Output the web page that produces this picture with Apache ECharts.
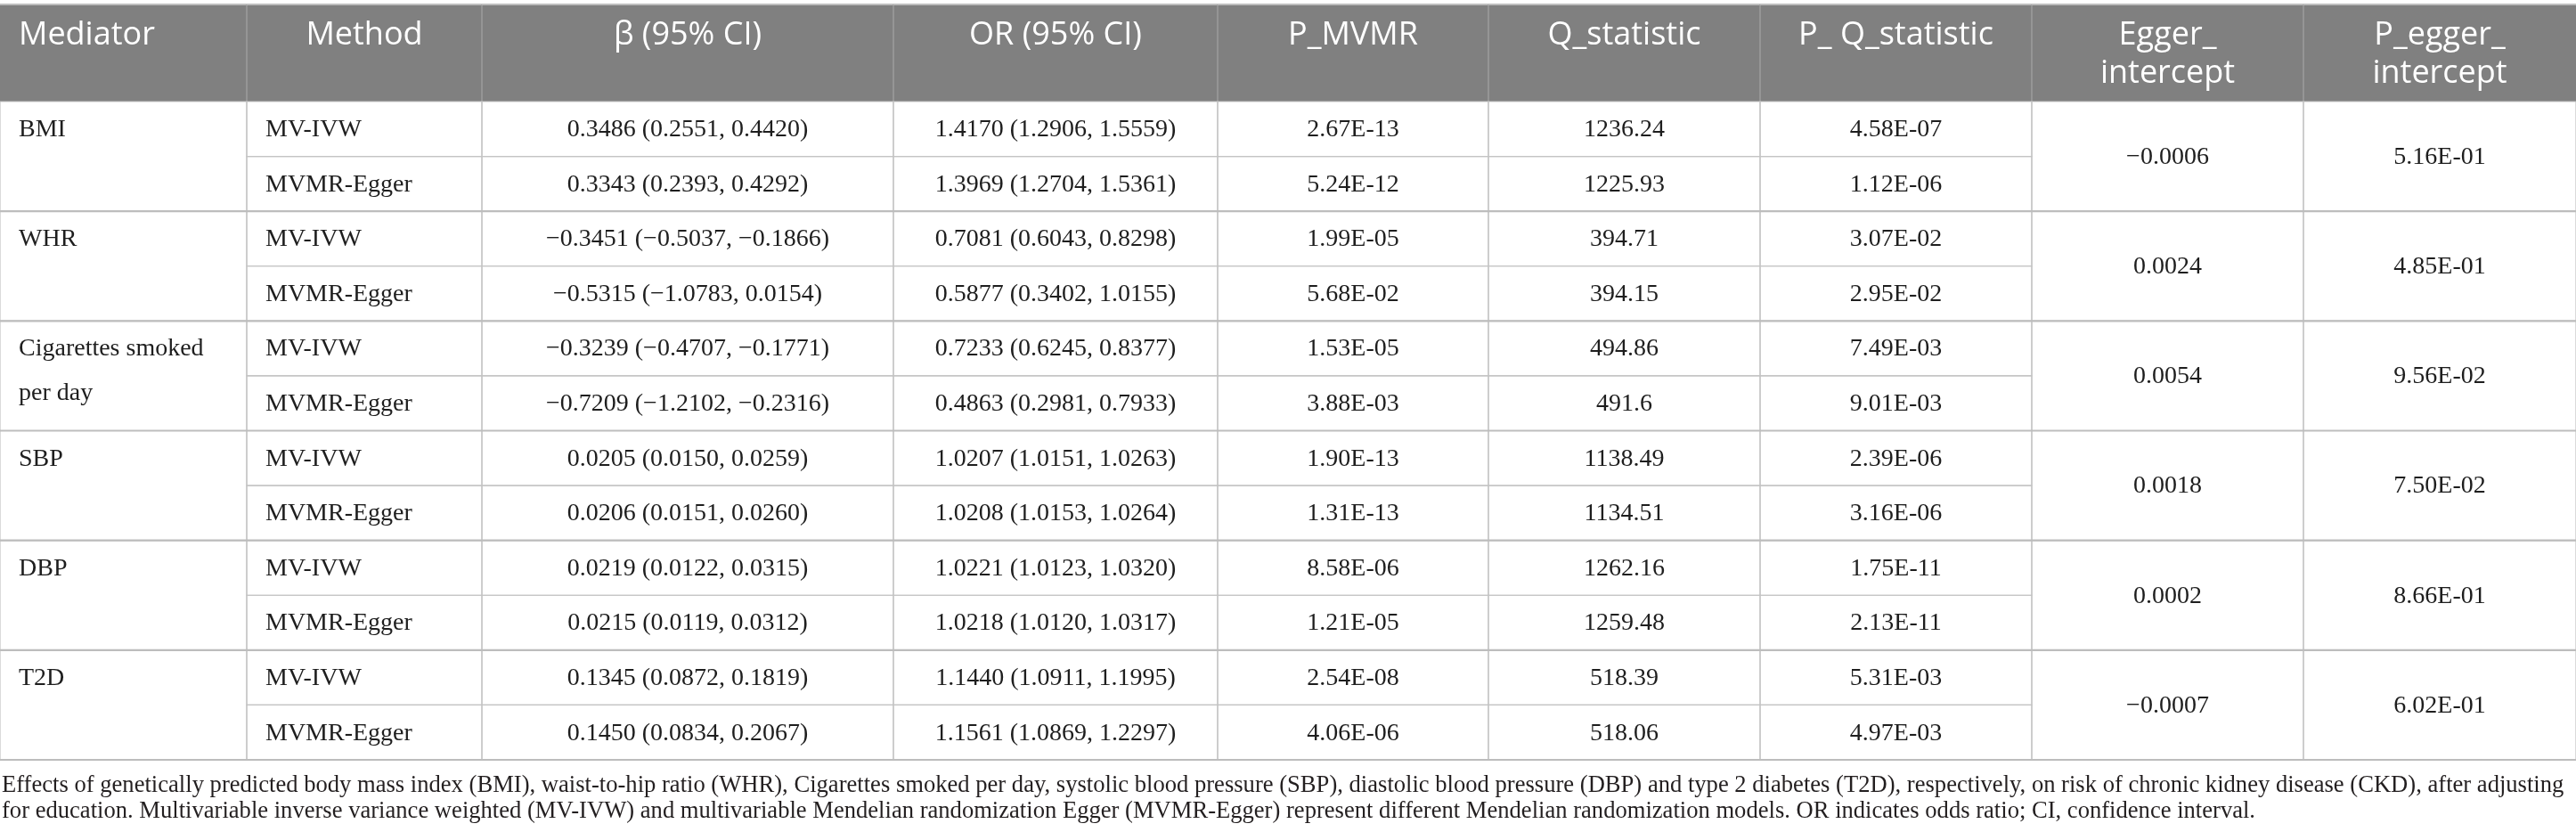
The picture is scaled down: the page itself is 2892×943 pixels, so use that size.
<!DOCTYPE html>
<html lang="en">
<head>
    <meta charset="UTF-8">
    <title>MVMR mediators</title>
    <style>
        html, body {margin: 0; padding: 0; background: #fff;}
    </style>
</head>
<body>
<div id="main" style="width: 2892px;height: 943px"></div>
</body>
<script src="https://cdn.jsdelivr.net/npm/echarts@6/dist/echarts.min.js"></script>
<script>
    // ---- table data ----
    const headers = ['Mediator', 'Method', 'β (95% CI)', 'OR (95% CI)', 'P_MVMR', 'Q_statistic',
        'P_ Q_statistic', 'Egger_\nintercept', 'P_egger_\nintercept']
    const mediators = ['BMI', 'WHR', 'Cigarettes smoked per day', 'SBP', 'DBP', 'T2D']
    const methods = ['MV-IVW', 'MVMR-Egger']
    const beta = [
        '0.3486 (0.2551, 0.4420)', '0.3343 (0.2393, 0.4292)',
        '−0.3451 (−0.5037, −0.1866)', '−0.5315 (−1.0783, 0.0154)',
        '−0.3239 (−0.4707, −0.1771)', '−0.7209 (−1.2102, −0.2316)',
        '0.0205 (0.0150, 0.0259)', '0.0206 (0.0151, 0.0260)',
        '0.0219 (0.0122, 0.0315)', '0.0215 (0.0119, 0.0312)',
        '0.1345 (0.0872, 0.1819)', '0.1450 (0.0834, 0.2067)'
    ]
    const orCI = [
        '1.4170 (1.2906, 1.5559)', '1.3969 (1.2704, 1.5361)',
        '0.7081 (0.6043, 0.8298)', '0.5877 (0.3402, 1.0155)',
        '0.7233 (0.6245, 0.8377)', '0.4863 (0.2981, 0.7933)',
        '1.0207 (1.0151, 1.0263)', '1.0208 (1.0153, 1.0264)',
        '1.0221 (1.0123, 1.0320)', '1.0218 (1.0120, 1.0317)',
        '1.1440 (1.0911, 1.1995)', '1.1561 (1.0869, 1.2297)'
    ]
    const pMVMR = ['2.67E-13', '5.24E-12', '1.99E-05', '5.68E-02', '1.53E-05', '3.88E-03',
        '1.90E-13', '1.31E-13', '8.58E-06', '1.21E-05', '2.54E-08', '4.06E-06']
    const qStat = ['1236.24', '1225.93', '394.71', '394.15', '494.86', '491.6',
        '1138.49', '1134.51', '1262.16', '1259.48', '518.39', '518.06']
    const pQ = ['4.58E-07', '1.12E-06', '3.07E-02', '2.95E-02', '7.49E-03', '9.01E-03',
        '2.39E-06', '3.16E-06', '1.75E-11', '2.13E-11', '5.31E-03', '4.97E-03']
    const eggerInt = ['−0.0006', '0.0024', '0.0054', '0.0018', '0.0002', '−0.0007']
    const pEgger = ['5.16E-01', '4.85E-01', '9.56E-02', '7.50E-02', '8.66E-01', '6.02E-01']
    const footnote = [
        'Effects of genetically predicted body mass index (BMI), waist-to-hip ratio (WHR), Cigarettes smoked per day, systolic blood pressure (SBP), diastolic blood pressure (DBP) and type 2 diabetes (T2D), respectively, on risk of chronic kidney disease (CKD), after adjusting',
        'for education. Multivariable inverse variance weighted (MV-IVW) and multivariable Mendelian randomization Egger (MVMR-Egger) represent different Mendelian randomization models. OR indicates odds ratio; CI, confidence interval.'
    ]

    // ---- layout ----
    const colWidths = [277, 264, 462, 364, 304, 305, 305, 305, 306]
    const headerRows = 1.77   // header height in body-row units
    const serif = 'Liberation Serif'
    const sans = 'Open Sans'

    let colEdges = [0]
    colWidths.forEach(w => colEdges.push(colEdges[colEdges.length - 1] + w))

    // 组装单元格
    let cells = []
    headers.forEach((h, i) => {
        cells.push({col: i, r0: -headerRows, r1: 0, text: h, kind: 'head'})
    })
    const perRow = [beta, orCI, pMVMR, qStat, pQ]
    mediators.forEach((m, g) => {
        cells.push({col: 0, r0: g * 2, r1: g * 2 + 2, text: m, kind: 'mediator'})
        methods.forEach((md, k) => {
            let r = g * 2 + k
            cells.push({col: 1, r0: r, r1: r + 1, text: md, kind: 'method'})
            perRow.forEach((arr, c) => {
                cells.push({col: c + 2, r0: r, r1: r + 1, text: arr[r], kind: 'num'})
            })
        })
        cells.push({col: 7, r0: g * 2, r1: g * 2 + 2, text: eggerInt[g], kind: 'num'})
        cells.push({col: 8, r0: g * 2, r1: g * 2 + 2, text: pEgger[g], kind: 'num'})
    })

    function renderCell(params, api) {
        let c = cells[params.dataIndex]
        let p0 = api.coord([api.value(0), api.value(1)])
        let p1 = api.coord([api.value(2), api.value(3)])
        let unit = api.coord([0, 1])[1] - api.coord([0, 0])[1]
        let w = p1[0] - p0[0]
        let h = p1[1] - p0[1]
        let children = []

        if (c.kind === 'head') {
            children.push({
                type: 'rect', z2: 0,
                shape: {x: p0[0], y: p0[1], width: w, height: h},
                style: {fill: '#808080'}
            })
            children.push({
                type: 'line', z2: 5,
                shape: {x1: p0[0], y1: p0[1], x2: p1[0], y2: p0[1]},
                style: {stroke: '#bdbdbd', lineWidth: 2}
            })
            if (c.col < headers.length - 1) {
                children.push({
                    type: 'line', z2: 5,
                    shape: {x1: p1[0], y1: p0[1], x2: p1[0], y2: p1[1]},
                    style: {stroke: '#a3a3a3', lineWidth: 1.2}
                })
            }
            let left = c.col === 0
            children.push({
                type: 'text', z2: 20,
                style: {
                    text: c.text,
                    x: left ? p0[0] + 21 : p0[0] + w / 2,
                    y: p0[1] + 13,
                    align: left ? 'left' : 'center',
                    verticalAlign: 'top',
                    fontFamily: sans, fontSize: 36, lineHeight: 43,
                    fill: '#ffffff'
                }
            })
            return {type: 'group', children: children}
        }

        // 单元格边框
        children.push({
            type: 'rect', z2: 5,
            shape: {x: p0[0], y: p0[1], width: w, height: h},
            style: {fill: null, stroke: '#c4c4c4', lineWidth: 1.2}
        })
        if (c.r1 % 2 === 0) {
            children.push({
                type: 'line', z2: 6,
                shape: {x1: p0[0], y1: p1[1], x2: p1[0], y2: p1[1]},
                style: {stroke: '#bdbdbd', lineWidth: 2.2}
            })
        }

        let textStyle = {
            text: c.text,
            fontFamily: serif, fontSize: 28,
            fill: '#1e1e1e'
        }
        if (c.kind === 'mediator') {
            Object.assign(textStyle, {
                x: p0[0] + 21, y: p0[1] + (unit - 50) / 2 + 1,
                align: 'left', verticalAlign: 'top', lineHeight: 50,
                width: w - 42, overflow: 'break'
            })
        } else if (c.kind === 'method') {
            Object.assign(textStyle, {
                x: p0[0] + 21, y: p0[1] + h / 2 + 1,
                align: 'left', verticalAlign: 'middle'
            })
        } else {
            Object.assign(textStyle, {
                x: p0[0] + w / 2, y: p0[1] + h / 2 + 1,
                align: 'center', verticalAlign: 'middle'
            })
        }
        children.push({type: 'text', z2: 20, style: textStyle})
        return {type: 'group', children: children}
    }

    let chart = echarts.init(document.getElementById('main'))
    let option = {
        animation: false,
        backgroundColor: '#ffffff',
        title: {
            text: footnote.join('\n'),
            left: 2,
            top: 868,
            padding: 0,
            textStyle: {
                fontFamily: serif,
                fontSize: 26.6,
                fontWeight: 'normal',
                lineHeight: 29,
                color: '#231f20'
            }
        },
        grid: {left: 0, right: 0, top: 5, bottom: 90},
        xAxis: {type: 'value', min: 0, max: colEdges[colEdges.length - 1], show: false},
        yAxis: {type: 'value', min: -headerRows, max: mediators.length * methods.length, inverse: true, show: false},
        series: [{
            type: 'custom',
            renderItem: renderCell,
            encode: {x: [0, 2], y: [1, 3]},
            data: cells.map(c => [colEdges[c.col], c.r0, colEdges[c.col + 1], c.r1]),
            silent: true
        }]
    }
    chart.setOption(option)
</script>
</html>
